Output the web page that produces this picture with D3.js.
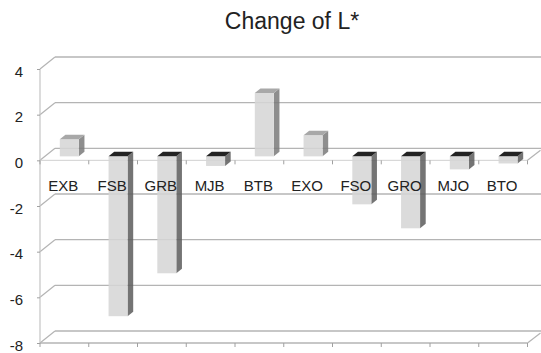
<!DOCTYPE html>
<html><head><meta charset="utf-8">
<script src="https://cdn.jsdelivr.net/npm/d3@7"></script>
<style>body{margin:0;background:#fff}svg{display:block}</style>
</head><body>
<svg id="c" width="541" height="353"></svg>
<script>
const categories = ["EXB","FSB","GRB","MJB","BTB","EXO","FSO","GRO","MJO","BTO"];
const values = [0.75, -7.0, -5.12, -0.42, 2.78, 0.92, -2.1, -3.15, -0.57, -0.31];
const yTicks = [4, 2, 0, -2, -4, -6, -8];
const title = "Change of L*";

const svg = d3.select("#c");
const x = d3.scaleBand().domain(categories).range([40, 527.5]).padding(0);
const y = d3.scaleLinear().domain([-8, 4]).range([343, 69]);
const DX = 15, DY = -12;           // full depth offset of the back wall
const F1 = 0.33, FD = 0.375;        // bar front plane & bar depth (fractions)
const barW = 19;
const gridCol = "#b4b4b4";

// title
svg.append("text").attr("x", 292).attr("y", 29).attr("text-anchor", "middle")
  .attr("font-family", "Liberation Sans, Arial, sans-serif").attr("font-size", 23)
  .attr("fill", "#222").text(title);

const g = svg.append("g");
const x0 = x.range()[0], x1 = x.range()[1];

// back wall gridlines & left-wall diagonals
yTicks.forEach(t => {
  const yy = y(t);
  g.append("line").attr("x1", x0 + DX).attr("x2", x1 + DX + 2).attr("y1", yy + DY).attr("y2", yy + DY)
    .attr("stroke", gridCol).attr("stroke-width", 1.4);
  g.append("line").attr("x1", x0).attr("x2", x0 + DX).attr("y1", yy).attr("y2", yy + DY)
    .attr("stroke", gridCol).attr("stroke-width", 1.2);
});

// vertical axis
g.append("line").attr("x1", x0).attr("x2", x0).attr("y1", y(4)).attr("y2", y(-8))
  .attr("stroke", "#c4c4c4").attr("stroke-width", 1.2);
// front floor line at -8 and category axis line at 0
[-8, 0].forEach(v => {
  g.append("line").attr("x1", x0).attr("x2", x1).attr("y1", y(v)).attr("y2", y(v))
    .attr("stroke", v === 0 ? "#d0d0d0" : gridCol).attr("stroke-width", v === 0 ? 1 : 1.4);
  g.append("line").attr("x1", x1).attr("x2", x1 + DX - 2).attr("y1", y(v)).attr("y2", y(v) + DY + 2)
    .attr("stroke", gridCol).attr("stroke-width", 1.2);
  const bounds = categories.map(c => x(c)).concat([x1]);
  bounds.forEach(b => {
    g.append("line").attr("x1", b).attr("x2", b).attr("y1", y(v)).attr("y2", y(v) + 4)
      .attr("stroke", "#a0a0a0").attr("stroke-width", 1);
  });
});

// y axis ticks & labels via d3 axis
const yAxis = d3.axisLeft(y).tickValues(yTicks).tickSize(3).tickPadding(14).tickFormat(d => String(d));
const ya = svg.append("g").attr("transform", `translate(${x0},0)`).call(yAxis);
ya.select(".domain").remove();
ya.selectAll(".tick line").attr("stroke", "#a0a0a0");
ya.selectAll(".tick text").attr("font-family", "Liberation Sans, Arial, sans-serif")
  .attr("font-size", 15).attr("fill", "#222").attr("dy", "0.85em").attr("y", -5.5).attr("x", -17);

// bars
const bars = svg.append("g");
const ox = F1 * DX, oy = F1 * DY, bx = FD * DX, by = FD * DY;
categories.forEach((c, i) => {
  const v = values[i];
  const cx = x(c) + x.bandwidth() / 2 + ox;
  const L = cx - barW / 2, R = cx + barW / 2;
  const yTop = y(Math.max(v, 0)) + oy, yBot = y(Math.min(v, 0)) + oy;
  const neg = v < 0;
  const bg = bars.append("g").attr("opacity", 0.86);
  bg.append("polygon").attr("points", [[R, yTop], [R + bx, yTop + by], [R + bx, yBot + by], [R, yBot]].join(" "))
    .attr("fill", neg ? "#5e5e5e" : "#7c7c7c");
  bg.append("rect").attr("x", L).attr("y", yTop).attr("width", barW).attr("height", yBot - yTop)
    .attr("fill", "#d6d6d6");
  bg.append("polygon").attr("points", [[L, yTop], [L + bx, yTop + by], [R + bx, yTop + by], [R, yTop]].join(" "))
    .attr("fill", neg ? "#000" : "#9a9a9a");
});

// category labels
svg.append("g").selectAll("text").data(categories).join("text")
  .attr("x", d => x(d) + x.bandwidth() / 2 - 1).attr("y", 191)
  .attr("text-anchor", "middle").attr("font-family", "Liberation Sans, Arial, sans-serif")
  .attr("font-size", 15).attr("fill", "#222").text(d => d);
</script>
</body></html>
